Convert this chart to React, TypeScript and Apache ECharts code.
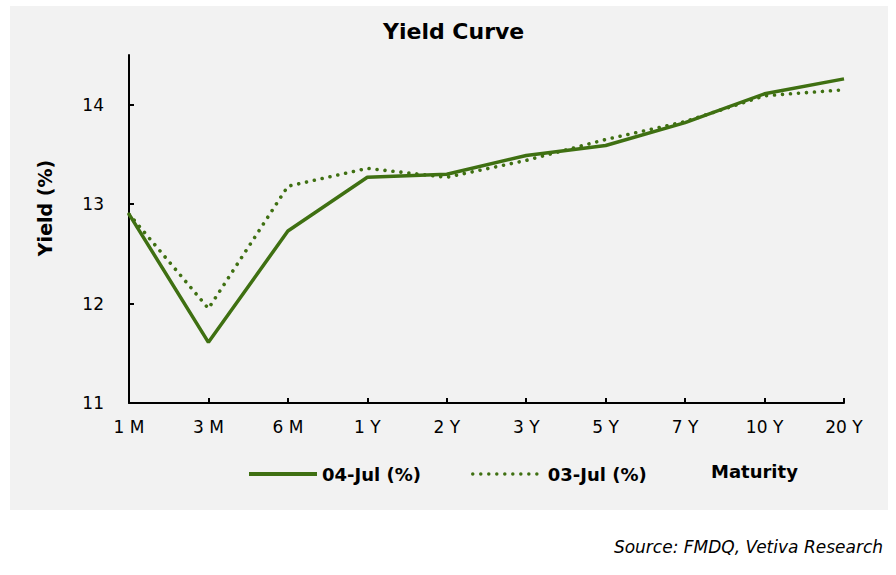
import React, { useEffect, useRef } from "react";
import * as echarts from "echarts";

const MATURITIES = ["1 M", "3 M", "6 M", "1 Y", "2 Y", "3 Y", "5 Y", "7 Y", "10 Y", "20 Y"];
const YIELD_04_JUL = [12.9, 11.61, 12.73, 13.27, 13.3, 13.49, 13.59, 13.82, 14.11, 14.26];
const YIELD_03_JUL = [12.9, 11.95, 13.18, 13.36, 13.27, 13.44, 13.65, 13.83, 14.09, 14.15];
const Y_TICKS = [11, 12, 13, 14];

const GREEN = "#3f7012";
const FONT = "DejaVu Sans";
const DOTS = [0.01, 8];

const App: React.FC = () => {
  const chartRef = useRef<HTMLDivElement | null>(null);

  useEffect(() => {
    document.body.style.margin = "0";
    if (!chartRef.current) return;
    const chart = echarts.init(chartRef.current, undefined, { renderer: "svg" });

    const legendText = { fontFamily: FONT, fontSize: 18, fontWeight: "bold" as const, color: "#000", lineHeight: 18 };

    chart.setOption({
      animation: false,
      backgroundColor: "#fff",
      title: {
        text: "Yield Curve",
        left: 383,
        top: 20,
        padding: 0,
        textStyle: { fontFamily: FONT, fontSize: 22, fontWeight: "bold", color: "#000" },
      },
      graphic: [
        {
          type: "rect",
          z: -10,
          silent: true,
          shape: { x: 10, y: 6, width: 878, height: 504 },
          style: { fill: "#f2f2f2" },
        },
        {
          type: "text",
          x: 45,
          y: 208,
          rotation: Math.PI / 2,
          style: {
            text: "Yield (%)",
            font: `bold 19px "${FONT}"`,
            fill: "#000",
            align: "center",
            verticalAlign: "middle",
          },
        },
        {
          type: "text",
          left: 711,
          top: 462,
          style: { text: "Maturity", font: `bold 18px "${FONT}"`, fill: "#000" },
        },
        {
          type: "text",
          right: 13,
          top: 538,
          style: { text: "Source: FMDQ, Vetiva Research", font: `italic 17px "${FONT}"`, fill: "#000" },
        },
      ],
      legend: [
        {
          data: ["04-Jul (%)"],
          left: 247,
          top: 465,
          padding: 0,
          itemWidth: 68,
          itemHeight: 14,
          itemStyle: { opacity: 0 },
          lineStyle: { width: 4 },
          textStyle: legendText,
        },
        {
          data: ["03-Jul (%)"],
          left: 471,
          top: 465,
          padding: 0,
          itemWidth: 70,
          itemHeight: 14,
          itemStyle: { opacity: 0 },
          lineStyle: { width: 3.5, type: DOTS, cap: "round" },
          textStyle: legendText,
        },
      ],
      grid: { left: 129, right: 52, top: 55, bottom: 172 },
      xAxis: {
        type: "category",
        data: MATURITIES,
        boundaryGap: false,
        axisLine: { lineStyle: { color: "#000", width: 2 } },
        axisTick: { inside: true, length: 5, lineStyle: { color: "#000", width: 2 } },
        axisLabel: { margin: 15, fontFamily: FONT, fontSize: 17, color: "#000" },
        splitLine: { show: false },
      },
      yAxis: {
        type: "value",
        min: 11,
        max: 14.5,
        interval: 1,
        axisLine: { show: true, lineStyle: { color: "#000", width: 2 } },
        axisTick: { show: true, inside: true, length: 5, customValues: Y_TICKS, lineStyle: { color: "#000", width: 2 } },
        axisLabel: { margin: 25, fontFamily: FONT, fontSize: 17, color: "#000", customValues: Y_TICKS },
        splitLine: { show: false },
      },
      series: [
        {
          name: "04-Jul (%)",
          type: "line",
          data: YIELD_04_JUL,
          symbol: "none",
          z: 3,
          itemStyle: { color: GREEN },
          lineStyle: { color: GREEN, width: 3.5 },
        },
        {
          name: "03-Jul (%)",
          type: "line",
          data: YIELD_03_JUL,
          symbol: "none",
          z: 2,
          itemStyle: { color: GREEN },
          lineStyle: { color: GREEN, width: 3.6, type: DOTS, cap: "round" },
        },
      ],
    });

    return () => chart.dispose();
  }, []);

  return <div ref={chartRef} style={{ width: "896px", height: "575px" }} />;
};

export default App;
